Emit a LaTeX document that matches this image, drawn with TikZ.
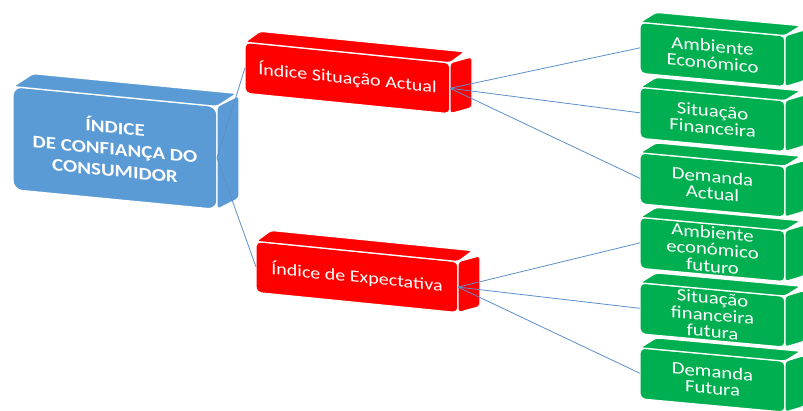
\documentclass[tikz,border=0pt]{standalone}
\usepackage{fontspec}
\newfontfamily\calib[FakeStretch=1.19]{Carlito}
\usetikzlibrary{calc}
\definecolor{bluebox}{HTML}{5B9BD5}
\definecolor{redbox}{HTML}{FF0000}
\definecolor{greenbox}{HTML}{00B050}
\definecolor{linkc}{HTML}{5B8FC9}
% #1 node, #2 #3 top-face offset, #4 #5 right-face offset, #6 colour
\newcommand\sidefaces[6]{%
  \filldraw[fill=#6, draw=white, line width=1.3pt, rounded corners=3pt]
    (#1.north west) -- ++(#2,#3) -- ($(#1.north east)+(#2,#3)$) -- (#1.north east) -- cycle;
  \filldraw[fill=#6, draw=white, line width=1.3pt, rounded corners=3pt]
    (#1.north east) -- ++(#4,#5) -- ($(#1.south east)+(#4,#5)$) -- (#1.south east) -- cycle;
}
\tikzset{
  front/.style={transform shape, fill=#1, draw=white, line width=1.2pt,
    text=white, align=center, inner sep=0pt, outer sep=0pt},
  bluefront/.style={front=bluebox, rounded corners=9pt, minimum width=204pt, minimum height=103pt,
    font=\calib\bfseries\fontsize{17.6}{21.5}\selectfont},
  redfront/.style={front=redbox, rounded corners=5pt, minimum height=51pt,
    font=\calib\fontsize{16.8}{19}\selectfont},
  greenfront/.style={front=greenbox, rounded corners=5pt, minimum width=145pt, minimum height=51pt,
    font=\calib\fontsize{17.4}{16.8}\selectfont},
  link/.style={draw=linkc, line width=0.8pt}
}
\begin{document}
\begin{tikzpicture}[x=1pt,y=-1pt]
\useasboundingbox (0,0) rectangle (803,410);
% blue box
\begin{scope}[shift={(115,148)}, yslant=-0.097]
  \node[bluefront] (icc) at (0,0) {ÍNDICE\\DE CONFIANÇA DO\\CONSUMIDOR};
\end{scope}
\sidefaces{icc}{20}{-13}{22}{-11}{bluebox}
% red boxes
\begin{scope}[shift={(347.5,78)}, yslant=-0.1]
  \node[redfront, minimum width=205pt] (isa) at (0,0) {Índice Situação Actual};
\end{scope}
\sidefaces{isa}{15}{-11}{22}{-6}{redbox}
\begin{scope}[shift={(357,277)}, yslant=-0.1]
  \node[redfront, minimum width=202pt] (ie) at (0,0) {Índice de Expectativa};
\end{scope}
\sidefaces{ie}{15}{-11}{22}{-6}{redbox}
% green boxes
\begin{scope}[shift={(712.5,54.5)}, yslant=-0.092]
  \node[greenfront] (g1) at (0,0) {Ambiente\\Económico};
\end{scope}
\sidefaces{g1}{16}{-10}{20}{-6}{greenbox}
\begin{scope}[shift={(712.5,119.5)}, yslant=-0.092]
  \node[greenfront] (g2) at (0,0) {Situação\\Financeira};
\end{scope}
\sidefaces{g2}{16}{-10}{20}{-6}{greenbox}
\begin{scope}[shift={(712.5,185)}, yslant=-0.092]
  \node[greenfront] (g3) at (0,0) {Demanda\\Actual};
\end{scope}
\sidefaces{g3}{16}{-10}{20}{-6}{greenbox}
\begin{scope}[shift={(712.5,249.5)}, yslant=-0.092]
  \node[greenfront] (g4) at (0,0) {Ambiente\\económico\\futuro};
\end{scope}
\sidefaces{g4}{16}{-10}{20}{-6}{greenbox}
\begin{scope}[shift={(712.5,315)}, yslant=-0.092]
  \node[greenfront] (g5) at (0,0) {Situação\\financeira\\futura};
\end{scope}
\sidefaces{g5}{16}{-10}{20}{-6}{greenbox}
\begin{scope}[shift={(712.5,380)}, yslant=-0.092]
  \node[greenfront] (g6) at (0,0) {Demanda\\Futura};
\end{scope}
\sidefaces{g6}{16}{-10}{20}{-6}{greenbox}
% connectors
\draw[link] (icc.east) -- (isa.west);
\draw[link] (icc.east) -- (ie.west);
\draw[link] (isa.east) -- (g1.west);
\draw[link] (isa.east) -- (g2.west);
\draw[link] (isa.east) -- (g3.west);
\draw[link] (ie.east) -- (g4.west);
\draw[link] (ie.east) -- (g5.west);
\draw[link] (ie.east) -- (g6.west);
\end{tikzpicture}
\end{document}
